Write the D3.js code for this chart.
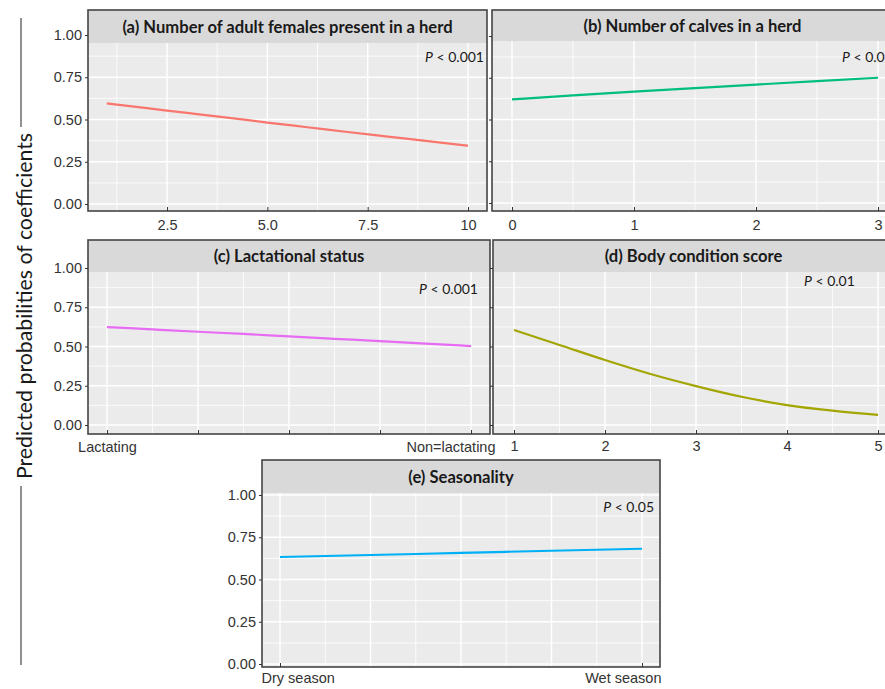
<!DOCTYPE html>
<html>
<head>
<meta charset="utf-8">
<script src="https://cdn.jsdelivr.net/npm/d3@7"></script>
<style>
  html, body { margin: 0; padding: 0; background: #fff; }
  svg { display: block; font-family: Lato, "Open Sans", sans-serif; }
  .tick text { fill: #333; font-size: 14.5px; }
  .domain { display: none; }
  .tick line { stroke: #333; }
</style>
</head>
<body>
<div class="container"></div>
<script>
// ---- data ----
const femalesX = [1, 2, 3, 4, 5, 6, 7, 8, 9, 10];
const femalesP = [0.595, 0.567, 0.539, 0.511, 0.482, 0.454, 0.426, 0.399, 0.372, 0.345];

const calvesX = [0, 0.5, 1, 1.5, 2, 2.5, 3];
const calvesP = [0.62, 0.644, 0.667, 0.688, 0.709, 0.73, 0.75];

const lactX = [0, 0.125, 0.25, 0.375, 0.5, 0.625, 0.75, 0.875, 1];
const lactP = [0.624, 0.609, 0.594, 0.58, 0.564, 0.549, 0.534, 0.518, 0.503];

const bcsX = [1, 1.5, 2, 2.5, 3, 3.5, 4, 4.5, 5];
const bcsP = [0.605, 0.51, 0.414, 0.325, 0.248, 0.18, 0.127, 0.091, 0.064];

const seasonX = [0, 0.125, 0.25, 0.375, 0.5, 0.625, 0.75, 0.875, 1];
const seasonP = [0.633, 0.639, 0.645, 0.651, 0.657, 0.664, 0.67, 0.676, 0.682];

// tick labels
const yTicks = [0, 0.25, 0.5, 0.75, 1];
const femalesTicks = [2.5, 5, 7.5, 10];
const calvesTicks = [0, 1, 2, 3];
const lactTicks = [0, 0.25, 0.5, 0.75, 1];
const lactLabels = ["Lactating", "", "", "", "Non=lactating"];
const bcsTicks = [1, 2, 3, 4, 5];
const seasonTicks = [0, 1];
const seasonLabels = ["Dry season", "Wet season"];

const titles = [
  "(a) Number of adult females present in a herd",
  "(b) Number of calves in a herd",
  "(c) Lactational status",
  "(d) Body condition score",
  "(e) Seasonality"
];
const pValues = ["< 0.001", "< 0.01", "< 0.001", "< 0.01", "< 0.05"];
const colours = ["#F8766D", "#00BF7D", "#E76BF3", "#A3A500", "#00B0F6"];

const W = 885, H = 689;
const svg = d3.select(".container").append("svg")
  .attr("width", W).attr("height", H).attr("viewBox", `0 0 ${W} ${H}`);

// panel layout: box, strip bottom, pixel positions of data range
const panels = [
  { x: femalesX, y: femalesP, ticks: femalesTicks, labels: null, xMinor: [1.25, 3.75, 6.25, 8.75],
    box: [88, 10, 487, 211], strip: 43, xr: [[2.5, 167], [10, 468]], yr: [204, 35], pad: 6,
    p: { x: 484, y: 62, anchor: "end" } },
  { x: calvesX, y: calvesP, ticks: calvesTicks, labels: null, xMinor: [0.5, 1.5, 2.5, 3.5],
    box: [492, 10, 893, 211], strip: 41, xr: [[0, 512], [3, 878]], yr: [203, 36], pad: 6, noY: true,
    p: { x: 842, y: 62, anchor: "start" } },
  { x: lactX, y: lactP, ticks: lactTicks, labels: lactLabels, xMinor: [0.125, 0.375, 0.625, 0.875],
    box: [88, 240, 490, 434], strip: 272, xr: [[0, 107], [1, 471]], yr: [425, 268], pad: 4,
    p: { x: 478, y: 294, anchor: "end" }, labelPos: { "Non=lactating": [495, "end"] } },
  { x: bcsX, y: bcsP, ticks: bcsTicks, labels: null, xMinor: [1.5, 2.5, 3.5, 4.5],
    box: [493, 240, 894, 434], strip: 272, xr: [[1, 514], [5, 878]], yr: [425, 268], pad: 4, noY: true,
    p: { x: 804, y: 286, anchor: "start" } },
  { x: seasonX, y: seasonP, ticks: [0, 0.25, 0.5, 0.75, 1], labels: null, xMinor: [0.125, 0.375, 0.625, 0.875],
    box: [262, 460, 660, 667], strip: 493, xr: [[0, 280], [1, 642]], yr: [664, 495], pad: 2,
    p: { x: 654, y: 512, anchor: "end" }, endTicks: seasonTicks, endLabels: seasonLabels,
    labelPos: { "Dry season": [261, "start"], "Wet season": [661, "end"] } }
];

const yMinor = [0.125, 0.375, 0.625, 0.875, 1.125];

panels.forEach((pn, i) => {
  const [x0, y0, x1, y1] = pn.box;
  const xScale = d3.scaleLinear().domain([pn.xr[0][0], pn.xr[1][0]]).range([pn.xr[0][1], pn.xr[1][1]]);
  const yScale = d3.scaleLinear().domain([0, 1]).range(pn.yr);

  const g = svg.append("g");
  const clipId = "clip" + i;
  g.append("clipPath").attr("id", clipId)
    .append("rect").attr("x", x0).attr("y", y0).attr("width", x1 - x0).attr("height", y1 - y0);

  const plot = g.append("g").attr("clip-path", `url(#${clipId})`);
  plot.append("rect").attr("x", x0).attr("y", y0).attr("width", x1 - x0).attr("height", y1 - y0)
    .attr("fill", "#ebebeb");

  // minor grid
  plot.selectAll(".ymin").data(yMinor).enter().append("line")
    .attr("x1", x0).attr("x2", x1).attr("y1", d => yScale(d)).attr("y2", d => yScale(d))
    .attr("stroke", "#fff").attr("stroke-width", 0.8);
  plot.selectAll(".xmin").data(pn.xMinor).enter().append("line")
    .attr("y1", y0).attr("y2", y1).attr("x1", d => xScale(d)).attr("x2", d => xScale(d))
    .attr("stroke", "#fff").attr("stroke-width", 0.8);
  // major grid
  plot.selectAll(".ymaj").data(yTicks).enter().append("line")
    .attr("x1", x0).attr("x2", x1).attr("y1", d => yScale(d)).attr("y2", d => yScale(d))
    .attr("stroke", "#fff").attr("stroke-width", 1.4);
  plot.selectAll(".xmaj").data(pn.ticks).enter().append("line")
    .attr("y1", y0).attr("y2", y1).attr("x1", d => xScale(d)).attr("x2", d => xScale(d))
    .attr("stroke", "#fff").attr("stroke-width", 1.4);

  // predicted line
  const pts = pn.x.map((v, k) => [v, pn.y[k]]);
  plot.append("path").datum(pts)
    .attr("fill", "none").attr("stroke", colours[i]).attr("stroke-width", 2.2)
    .attr("d", d3.line().x(d => xScale(d[0])).y(d => yScale(d[1])).curve(d3.curveMonotoneX));

  // strip
  plot.append("rect").attr("x", x0).attr("y", y0).attr("width", x1 - x0).attr("height", pn.strip - y0)
    .attr("fill", "#d9d9d9");
  g.append("text").attr("x", (x0 + x1) / 2).attr("y", (y0 + pn.strip) / 2 + 6)
    .attr("text-anchor", "middle").attr("font-weight", "bold").attr("font-size", 16.6)
    .attr("fill", "#1a1a1a").text(titles[i]);

  // p-value
  const pt = plot.append("text").attr("x", pn.p.x).attr("y", pn.p.y)
    .attr("text-anchor", pn.p.anchor).attr("font-size", 14).attr("fill", "#1a1a1a");
  pt.append("tspan").attr("font-style", "italic").text("P");
  pt.append("tspan").text(" " + pValues[i]);

  // frame
  g.append("rect").attr("x", x0).attr("y", y0).attr("width", x1 - x0).attr("height", y1 - y0)
    .attr("fill", "none").attr("stroke", "#444").attr("stroke-width", 1.6);

  // y axis
  const yAxis = d3.axisLeft(yScale).tickValues(yTicks).tickSize(3).tickPadding(3)
    .tickFormat(pn.noY ? "" : d3.format(".2f"));
  g.append("g").attr("transform", `translate(${x0},0)`).call(yAxis);

  // x axis
  let xAxis;
  if (pn.endTicks) {
    xAxis = d3.axisBottom(xScale).tickValues(pn.endTicks).tickSize(4).tickPadding(pn.pad)
      .tickFormat((d, k) => pn.endLabels[k]);
  } else if (pn.labels) {
    xAxis = d3.axisBottom(xScale).tickValues(pn.ticks).tickSize(4).tickPadding(pn.pad)
      .tickFormat((d, k) => pn.labels[k]);
  } else {
    xAxis = d3.axisBottom(xScale).tickValues(pn.ticks).tickSize(3).tickPadding(pn.pad)
      .tickFormat(d => (i === 0 && d !== 10) ? d3.format(".1f")(d) : d3.format("d")(d));
  }
  const xa = g.append("g").attr("transform", `translate(0,${y1})`).call(xAxis);
  // ticks point inward as in the figure
  xa.selectAll(".tick line").attr("y2", -4);
  // end labels kept inside the panel width, as in the figure
  if (pn.labelPos) {
    xa.selectAll(".tick").each(function (d) {
      const t = d3.select(this).select("text");
      const pos = pn.labelPos[t.text()];
      if (pos) t.attr("x", pos[0] - xScale(d)).attr("text-anchor", pos[1]);
    });
  }
});

// shared y title with rules above and below
svg.append("text")
  .attr("transform", "translate(32,306) rotate(-90)")
  .attr("text-anchor", "middle").attr("font-size", 21.3).attr("fill", "#1a1a1a")
  .text("Predicted probabilities of coefficients");
svg.append("line").attr("x1", 21).attr("x2", 21).attr("y1", 18).attr("y2", 127)
  .attr("stroke", "#555").attr("stroke-width", 1.3);
svg.append("line").attr("x1", 21).attr("x2", 21).attr("y1", 486).attr("y2", 665)
  .attr("stroke", "#555").attr("stroke-width", 1.3);
</script>
</body>
</html>
